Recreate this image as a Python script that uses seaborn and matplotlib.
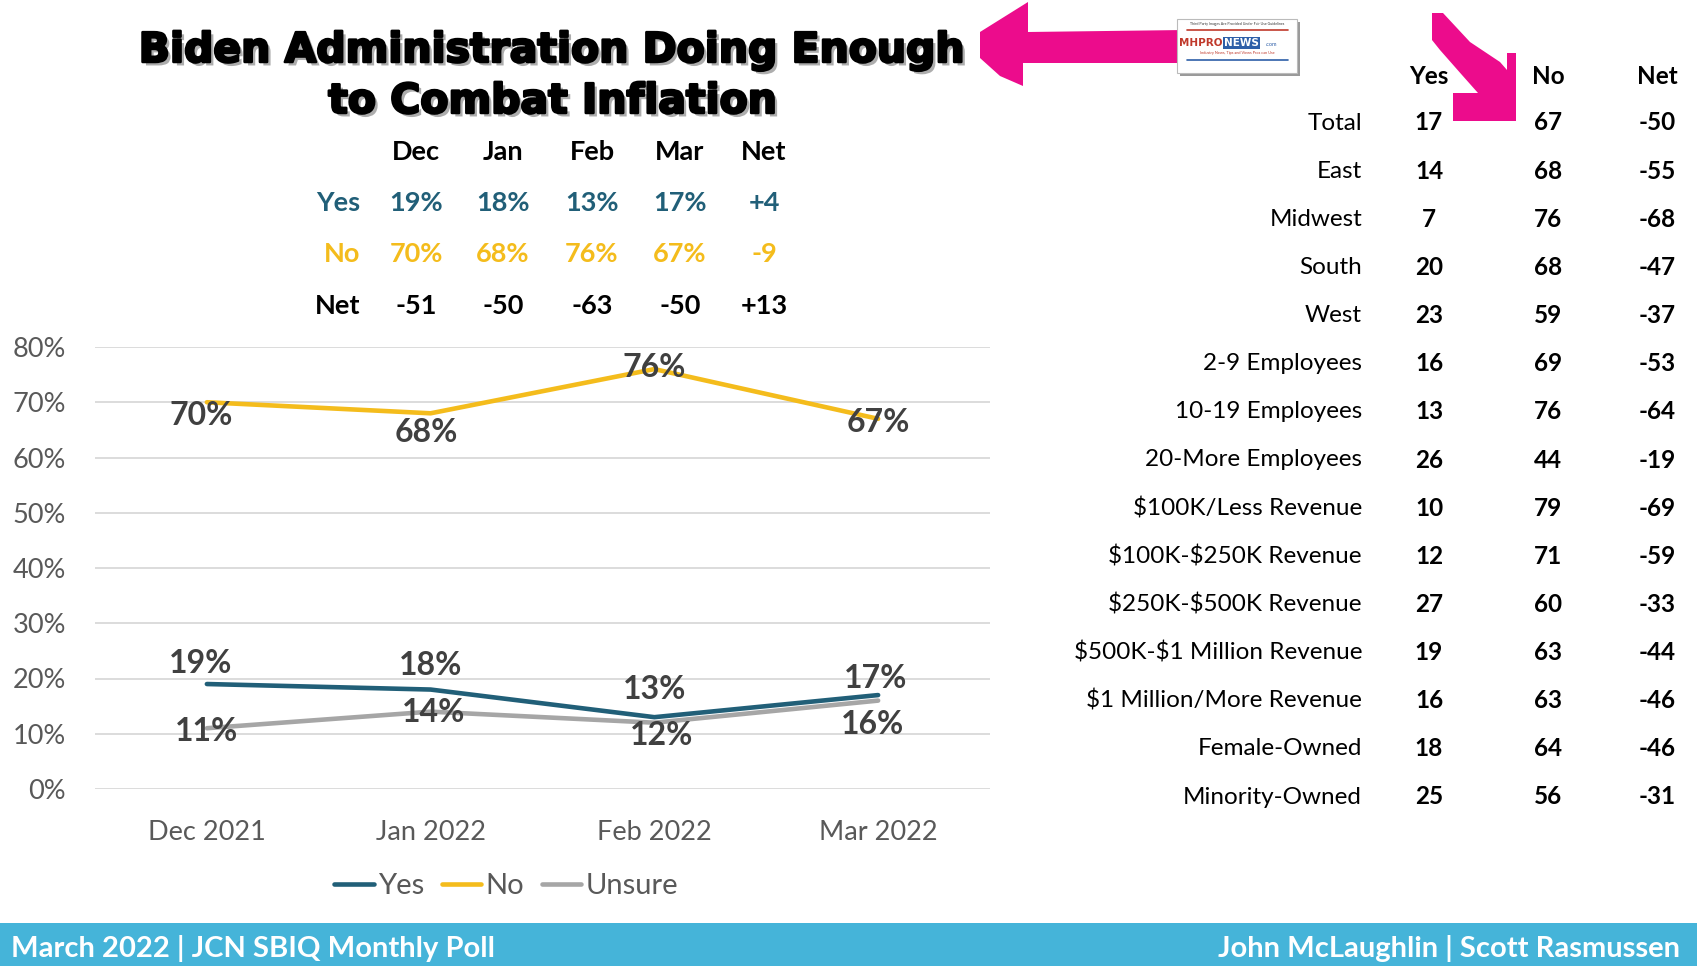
import numpy as np
import pandas as pd
import matplotlib
matplotlib.use("Agg")
import matplotlib.pyplot as plt
import seaborn as sns
from matplotlib.patches import Polygon, Rectangle
import matplotlib.patheffects as pe

# ---------------- data ----------------
months = ["Dec 2021", "Jan 2022", "Feb 2022", "Mar 2022"]
months_short = ["Dec", "Jan", "Feb", "Mar"]
series_names = ["Yes", "No", "Unsure"]
yes_vals = [19, 18, 13, 17]
no_vals = [70, 68, 76, 67]
unsure_vals = [11, 14, 12, 16]
y_ticks = [0, 10, 20, 30, 40, 50, 60, 70, 80]

groups = ["Total", "East", "Midwest", "South", "West", "2-9 Employees",
          "10-19 Employees", "20-More Employees", "$100K/Less Revenue",
          "$100K-$250K Revenue", "$250K-$500K Revenue",
          "$500K-$1 Million Revenue", "$1 Million/More Revenue",
          "Female-Owned", "Minority-Owned"]
group_yes = [17, 14, 7, 20, 23, 16, 13, 26, 10, 12, 27, 19, 16, 18, 25]
group_no = [67, 68, 76, 68, 59, 69, 76, 44, 79, 71, 60, 63, 63, 64, 56]
group_net = [-50, -55, -68, -47, -37, -53, -64, -19, -69, -59, -33, -44, -46, -46, -31]
table_headers = ["Yes", "No", "Net"]

title_lines = ["Biden Administration Doing Enough", "to Combat Inflation"]
footer_left = "March 2022 | JCN SBIQ Monthly Poll"
footer_right = "John McLaughlin | Scott Rasmussen"

# ---------------- style ----------------
W, H = 1697, 966
C_YES = "#215F78"
C_NO = "#F4BC1C"
C_UNS = "#A6A6A6"
C_TXT = "#595959"
C_LBL = "#404040"
PINK = "#EC0C8C"
BAND = "#45B4D9"
FONT = ["Lato", "DejaVu Sans"]

sns.set_theme(style="white")
plt.rcParams["font.family"] = FONT


def fx(x):
    return x / W


def fy(y):
    return 1 - y / H


fig = plt.figure(figsize=(W / 100, H / 100), dpi=100)
fig.patch.set_facecolor("white")

# ---------------- line chart ----------------
ax = fig.add_axes([fx(95), fy(789), 895 / W, 442 / H])
df = pd.DataFrame({
    "month": months * 3,
    "series": [s for s in series_names for _ in months],
    "value": yes_vals + no_vals + unsure_vals,
})
palette = {"Yes": C_YES, "No": C_NO, "Unsure": C_UNS}
sns.lineplot(data=df, x="month", y="value", hue="series", hue_order=series_names,
             palette=palette, linewidth=3.3, sort=False, ax=ax)
ax.set_xlim(-0.5, 3.5)
ax.set_ylim(0, 80)
ax.set_yticks(y_ticks)
ax.set_yticklabels([f"{v}%" for v in y_ticks])
ax.grid(axis="y", color="#D9D9D9", linewidth=1.3)
ax.grid(axis="x", visible=False)
ax.set_axisbelow(True)
for s in ax.spines.values():
    s.set_visible(False)
ax.tick_params(axis="y", length=0, pad=21, labelsize=19.5, labelcolor=C_TXT)
ax.tick_params(axis="x", length=0, pad=22, labelsize=19.5, labelcolor=C_TXT)
ax.set_xlabel("")
ax.set_ylabel("")

handles, labels = ax.get_legend_handles_labels()
ax.get_legend().remove()

# data labels (pixel offsets from the points)
label_offsets = {
    "Yes": [(-6, 21), (0, 24), (0, 28), (-3, 17)],
    "No": [(-6, -13), (-4, -19), (0, 2), (0, -4)],
    "Unsure": [(0, -3), (3, -1), (7, -13), (-6, -24)],
}
series_vals = {"Yes": yes_vals, "No": no_vals, "Unsure": unsure_vals}
for name in series_names:
    for i, v in enumerate(series_vals[name]):
        dx, dy = label_offsets[name][i]
        ax.annotate(f"{v}%", (i, v), xytext=(dx, dy), textcoords="offset pixels",
                    ha="center", va="center", fontsize=23, fontweight="bold",
                    color=C_LBL, annotation_clip=False)

fig.legend(handles, labels, loc="center", bbox_to_anchor=(fx(506), fy(886)),
           ncol=3, frameon=False, fontsize=21, handlelength=1.35,
           handletextpad=0.15, columnspacing=0.6, labelcolor=C_TXT)

# ---------------- title ----------------
for line, ty in zip(title_lines, [51, 102]):
    fig.text(fx(553), fy(ty), line, ha="center", va="center",
             fontsize=29.5, fontweight="heavy", family="DejaVu Sans", color="black",
             path_effects=[pe.SimplePatchShadow(offset=(2.5, -2.5), shadow_rgbFace="#777777", alpha=0.6),
                           pe.withStroke(linewidth=1.8, foreground="black")])

# ---------------- small summary table ----------------
col_x = [416, 503, 592, 680, 764]
row_y = [152, 203, 254, 306]
for x, t in zip(col_x, months_short + ["Net"]):
    fig.text(fx(x), fy(row_y[0]), t, ha="center", va="center", fontsize=19.5,
             fontweight="bold", color="black")
net_vals = [y - n for y, n in zip(yes_vals, no_vals)]
rows = [("Yes", yes_vals, C_YES), ("No", no_vals, C_NO), ("Net", net_vals, "black")]
for (name, vals, col), y in zip(rows, row_y[1:]):
    fig.text(fx(360), fy(y), name, ha="right", va="center", fontsize=19.5,
             fontweight="bold", color=col)
    texts = [f"{v}%" if name != "Net" else f"{v}" for v in vals]
    change = vals[-1] - vals[-2]
    texts.append(f"{change:+d}")
    for x, t in zip(col_x, texts):
        fig.text(fx(x), fy(y), t, ha="center", va="center", fontsize=19.5,
                 fontweight="bold", color=col)

# ---------------- right table ----------------
hdr_x = [1429, 1548, 1657]
for x, t in zip(hdr_x, table_headers):
    fig.text(fx(x), fy(76), t, ha="center", va="center", fontsize=17.5,
             fontweight="bold", color="black")
ys = np.linspace(123, 797, len(groups))
for y, g, a, b, c in zip(ys, groups, group_yes, group_no, group_net):
    fig.text(fx(1362), fy(y), g, ha="right", va="center", fontsize=17.5,
             color="black", parse_math=False)
    for x, v in zip(hdr_x, [a, b, c]):
        fig.text(fx(x), fy(y), f"{v}", ha="center", va="center", fontsize=17.5,
                 fontweight="bold", color="black")

# ---------------- decorations: pink arrows + logo ----------------
def poly(points, **kw):
    p = Polygon([(fx(x), fy(y)) for x, y in points], closed=True,
                transform=fig.transFigure, **kw)
    fig.add_artist(p)

poly([(980, 32), (1028, 2), (1028, 32), (1185, 30), (1185, 63), (1023, 63),
      (1023, 86), (1000, 76), (980, 58)], facecolor=PINK, edgecolor="none")
poly([(1432, 13), (1443, 13), (1470, 42), (1500, 62), (1507, 70), (1507, 53),
      (1516, 53), (1516, 121), (1453, 121), (1453, 93), (1478, 93),
      (1462, 75), (1440, 50), (1432, 40)], facecolor=PINK, edgecolor="none")

# logo box
fig.add_artist(Rectangle((fx(1180), fy(76)), 120 / W, 54 / H, transform=fig.transFigure,
                         facecolor="#9A9A9A", edgecolor="none"))
fig.add_artist(Rectangle((fx(1177), fy(73)), 120 / W, 54 / H, transform=fig.transFigure,
                         facecolor="white", edgecolor="#BBBBBB", linewidth=0.8))
fig.text(fx(1237), fy(24), "Third Party Images Are Provided Under Fair Use Guidelines",
         ha="center", va="center", fontsize=2.6, color="#333333")
fig.add_artist(plt.Line2D([fx(1187), fx(1288)], [fy(30), fy(30)], transform=fig.transFigure,
                          color="#C0392B", linewidth=1.2))
fig.add_artist(plt.Line2D([fx(1187), fx(1288)], [fy(60), fy(60)], transform=fig.transFigure,
                          color="#2E5FA8", linewidth=1.2))
fig.text(fx(1222), fy(43), "MHPRO", ha="right", va="center", fontsize=7.5,
         fontweight="bold", color="#C0392B", family="DejaVu Sans")
fig.text(fx(1224), fy(43), "NEWS", ha="left", va="center", fontsize=7.5,
         fontweight="bold", color="white", family="DejaVu Sans",
         bbox=dict(boxstyle="square,pad=0.1", facecolor="#2E5FA8", edgecolor="none"))
fig.text(fx(1266), fy(45), ".com", ha="left", va="center", fontsize=4,
         color="#2E5FA8")
fig.text(fx(1237), fy(53), "Industry News, Tips and Views Pros can Use",
         ha="center", va="center", fontsize=2.8, color="#C0392B")

# ---------------- footer ----------------
fig.add_artist(Rectangle((0, 0), 1, 43 / H, transform=fig.transFigure,
                         facecolor=BAND, edgecolor="none"))
fig.text(fx(11), fy(948), footer_left, ha="left", va="center", fontsize=21,
         fontweight="bold", color="white")
fig.text(fx(1680), fy(948), footer_right, ha="right", va="center", fontsize=21,
         fontweight="bold", color="white")

fig.savefig("out.png", dpi=100, facecolor="white")
